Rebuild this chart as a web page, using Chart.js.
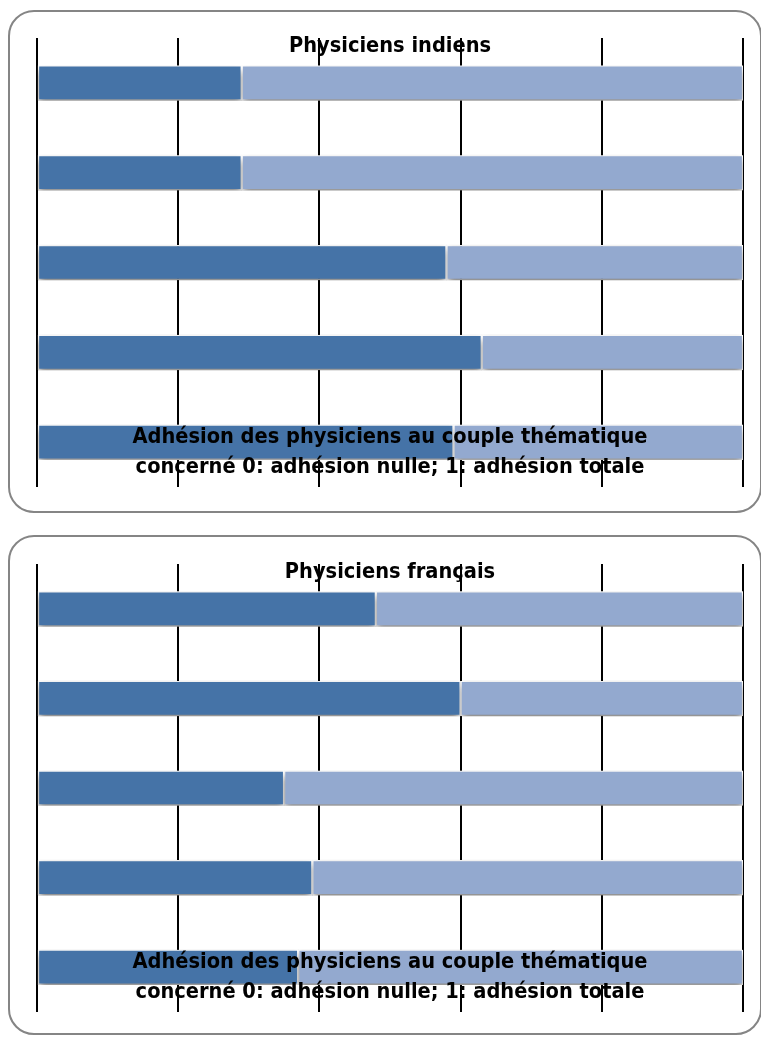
<!DOCTYPE html>
<html lang="fr">
<head>
<meta charset="UTF-8" />
<title>Adhésion des physiciens</title>
<script src="https://cdn.jsdelivr.net/npm/chart.js"></script>
<style>
  body { margin: 0; background: #fff; width: 761px; height: 1037px; overflow: hidden; position: relative; }
  .frame { position: absolute; left: 8px; width: 754px; box-sizing: border-box; border: 2px solid #858585; border-radius: 26px; }
  canvas { position: absolute; left: 8px; }
</style>
</head>
<body>
<div class="frame" style="top:10px;height:503px"></div>
<div class="frame" style="top:535px;height:500px"></div>
<canvas id="indiens" width="752" height="503" style="top:10px"></canvas>
<canvas id="francais" width="752" height="500" style="top:535px"></canvas>

<script>
  // couples thématiques (non affichés sur le graphique)
  const couples = ["C1", "C2", "C3", "C4", "C5"];
  const xTicks = [0, 0.2, 0.4, 0.6, 0.8, 1];

  // Physiciens indiens
  const indiensAdhesion = [0.29, 0.29, 0.58, 0.63, 0.59];
  const indiensReste = [0.71, 0.71, 0.42, 0.37, 0.41];

  // Physiciens français
  const francaisAdhesion = [0.48, 0.60, 0.35, 0.39, 0.37];
  const francaisReste = [0.52, 0.40, 0.65, 0.61, 0.63];

  const axisTitle = [
    "Adhésion des physiciens au couple thématique",
    "concerné 0: adhésion nulle; 1: adhésion totale",
  ];

  const FONT = 'bold 21.6px "Liberation Sans Narrow", "DejaVu Sans Condensed", Arial, sans-serif';

  // shadow under the bars
  const barShadow = {
    id: "barShadow",
    beforeDatasetsDraw(chart) {
      const ctx = chart.ctx;
      ctx.save();
      ctx.shadowColor = "rgba(0,0,0,0.5)";
      ctx.shadowBlur = 7;
      ctx.shadowOffsetY = 4;
    },
    afterDatasetsDraw(chart) {
      chart.ctx.restore();
    },
  };

  // titles drawn inside the plot, grid lines redrawn over them between bars
  const overlay = {
    id: "overlay",
    afterDatasetsDraw(chart, args, opts) {
      const ctx = chart.ctx;
      const area = chart.chartArea;
      const cx = (area.left + area.right) / 2;
      ctx.save();
      ctx.fillStyle = "#000";
      ctx.font = FONT;
      ctx.textAlign = "center";
      ctx.textBaseline = "middle";
      ctx.fillText(opts.title, cx, area.top + 8);
      ctx.fillText(axisTitle[0], cx, area.bottom - 50);
      ctx.fillText(axisTitle[1], cx, area.bottom - 20);

      // gaps between bars
      const bars = chart.getDatasetMeta(0).data
        .map((b) => [b.y - b.height / 2, b.y + b.height / 2])
        .sort((a, b) => a[0] - b[0]);
      const gaps = [];
      let y0 = area.top;
      bars.forEach(([t, b]) => {
        gaps.push([y0, t]);
        y0 = b + 2;
      });
      gaps.push([y0, area.bottom]);

      const xs = chart.scales.x;
      ctx.strokeStyle = "#000";
      ctx.lineWidth = 2;
      xTicks.forEach((v) => {
        const x = Math.round(xs.getPixelForValue(v));
        gaps.forEach(([a, b]) => {
          ctx.beginPath();
          ctx.moveTo(x, a);
          ctx.lineTo(x, b);
          ctx.stroke();
        });
      });
      ctx.restore();
    },
  };

  function makeChart(id, title, adhesion, reste, pad) {
    new Chart(document.getElementById(id), {
      type: "bar",
      data: {
        labels: couples,
        datasets: [
          {
            data: adhesion,
            backgroundColor: "#4573a7",
            borderColor: "#ffffff",
            borderWidth: 1.5,
            borderSkipped: false,
            barThickness: 35,
          },
          {
            data: reste,
            backgroundColor: "#93a9cf",
            borderColor: "#ffffff",
            borderWidth: 1.5,
            borderSkipped: false,
            barThickness: 35,
          },
        ],
      },
      options: {
        indexAxis: "y",
        responsive: false,
        animation: false,
        layout: { padding: pad },
        scales: {
          x: {
            stacked: true,
            min: 0,
            max: 1,
            afterBuildTicks: (scale) => {
              scale.ticks = xTicks.map((v) => ({ value: v }));
            },
            ticks: { display: false },
            border: { display: false },
            grid: { color: "#000", lineWidth: 2, drawTicks: false },
          },
          y: {
            stacked: true,
            display: false,
          },
        },
        plugins: {
          legend: { display: false },
          tooltip: { enabled: false },
          overlay: { title: title },
        },
      },
      plugins: [barShadow, overlay],
    });
  }

  makeChart("indiens", "Physiciens indiens", indiensAdhesion, indiensReste,
    { left: 29, right: 17, top: 28, bottom: 26 });
  makeChart("francais", "Physiciens français", francaisAdhesion, francaisReste,
    { left: 29, right: 17, top: 29, bottom: 23 });
</script>
</body>
</html>
